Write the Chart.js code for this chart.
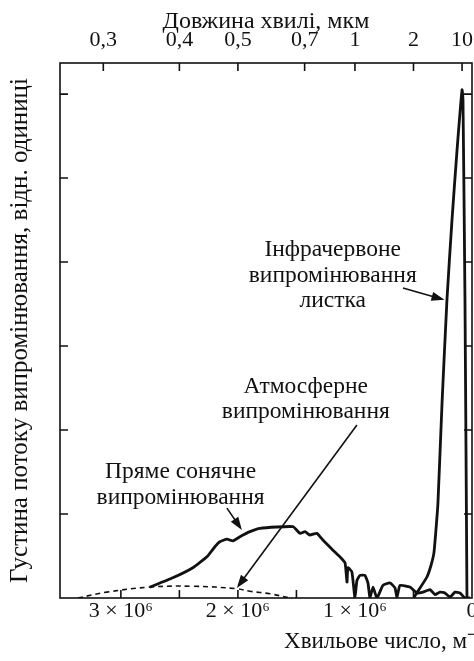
<!DOCTYPE html>
<html>
<head>
<meta charset="utf-8">
<script src="https://cdn.jsdelivr.net/npm/chart.js@4.4.1/dist/chart.umd.min.js"></script>
<style>
  html, body { margin: 0; padding: 0; background: #fff; overflow: hidden; }
  canvas { display: block; }
</style>
</head>
<body>
<canvas id="spectrum" width="520" height="661"></canvas>
<script>
// wavenumber in 10^6 m^-1, flux density in relative units
const solarNu = [2.752, 2.556, 2.385, 2.265, 2.197, 2.154, 2.094, 2.043, 1.983, 1.897, 1.812, 1.530, 1.470, 1.427, 1.385, 1.325, 1.274, 1.188, 1.128, 1.085, 1.068, 1.060, 1.026, 1.000, 0.983, 0.957, 0.915, 0.889, 0.872, 0.846, 0.812, 0.761, 0.701, 0.658, 0.641, 0.615, 0.530, 0.470, 0.419, 0.359, 0.316, 0.274, 0.231, 0.188, 0.145, 0.103, 0.060, 0.017];
const solarFlux = [0.13, 0.24, 0.36, 0.49, 0.61, 0.67, 0.70, 0.68, 0.73, 0.79, 0.83, 0.85, 0.77, 0.79, 0.75, 0.77, 0.69, 0.57, 0.49, 0.42, 0.19, 0.36, 0.31, 0.00, 0.21, 0.27, 0.27, 0.18, 0.00, 0.13, 0.00, 0.15, 0.18, 0.12, 0.01, 0.15, 0.13, 0.06, 0.07, 0.10, 0.04, 0.07, 0.06, 0.01, 0.07, 0.06, 0.00, 0.00];

const atmoNu = [3.368, 3.120, 2.752, 2.385, 2.009, 1.897, 1.726, 1.556];
const atmoFlux = [0.00, 0.07, 0.13, 0.14, 0.11, 0.08, 0.05, 0.00];

const leafNu = [0.496, 0.453, 0.385, 0.350, 0.325, 0.308, 0.291, 0.256, 0.214, 0.171, 0.128, 0.085, 0.077, 0.060, 0.043];
const leafFlux = [0.01, 0.10, 0.25, 0.39, 0.54, 0.81, 1.13, 2.32, 3.55, 4.50, 5.33, 6.05, 5.93, 3.55, 0.01];

// top axis: wavelength labels at the wavenumber where the picture puts them
const topTickPos = [3.15, 2.5, 2.0, 1.43, 1.0, 0.5, 0.085];
const topTickLabels = ['0,3', '0,4', '0,5', '0,7', '1', '2', '10'];

const serif = '"Liberation Serif", "Times New Roman", serif';
const ink = '#111';

function pts(xs, ys) {
  return xs.map((v, i) => ({ x: v, y: ys[i] }));
}

// text labels and arrows, placed in data units
const notes = [
  { lines: ['Інфрачервоне', 'випромінювання', 'листка'], x: 1.19, y: 4.14, from: [0.59, 3.69], to: [0.235, 3.55] },
  { lines: ['Атмосферне', 'випромінювання'], x: 1.42, y: 2.52, from: [0.983, 2.06], to: [2.009, 0.12] },
  { lines: ['Пряме сонячне', 'випромінювання'], x: 2.49, y: 1.50, from: [2.094, 1.07], to: [1.966, 0.81] }
];

function arrow(ctx, x1, y1, x2, y2) {
  const a = Math.atan2(y2 - y1, x2 - x1);
  const len = 13, half = 4.5;
  ctx.beginPath();
  ctx.moveTo(x1, y1);
  ctx.lineTo(x2 - Math.cos(a) * len * 0.8, y2 - Math.sin(a) * len * 0.8);
  ctx.stroke();
  ctx.beginPath();
  ctx.moveTo(x2, y2);
  ctx.lineTo(x2 - Math.cos(a) * len - Math.sin(a) * half, y2 - Math.sin(a) * len + Math.cos(a) * half);
  ctx.lineTo(x2 - Math.cos(a) * len + Math.sin(a) * half, y2 - Math.sin(a) * len - Math.cos(a) * half);
  ctx.closePath();
  ctx.fill();
}

const framePlugin = {
  id: 'frame',
  afterDraw(chart) {
    const { ctx, chartArea: a, scales } = chart;
    ctx.save();
    ctx.strokeStyle = ink;
    ctx.lineWidth = 1.6;
    ctx.strokeRect(a.left, a.top, a.right - a.left, a.bottom - a.top);

    // inner tick marks
    const tl = 8;
    ctx.beginPath();
    scales.y.ticks.forEach(t => {
      if (t.value <= 0 || t.value % 1 !== 0) return;
      const py = scales.y.getPixelForValue(t.value);
      ctx.moveTo(a.left, py); ctx.lineTo(a.left + tl, py);
      ctx.moveTo(a.right, py); ctx.lineTo(a.right - tl, py);
    });
    scales.x.ticks.forEach(t => {
      if (t.value <= 0 || Math.abs(t.value * 2 - Math.round(t.value * 2)) > 1e-6) return;
      const px = scales.x.getPixelForValue(t.value);
      ctx.moveTo(px, a.bottom); ctx.lineTo(px, a.bottom - tl);
    });
    scales.x2.ticks.forEach(t => {
      const px = scales.x2.getPixelForValue(t.value);
      ctx.moveTo(px, a.top); ctx.lineTo(px, a.top + tl);
    });
    ctx.stroke();

    ctx.fillStyle = ink;
    // bottom axis title (reversed scale flips the built-in alignment)
    ctx.font = '23px ' + serif;
    ctx.textAlign = 'right';
    ctx.textBaseline = 'middle';
    ctx.fillText('Хвильове число, м⁻¹', a.right + 10, 642);

    // annotations
    ctx.lineWidth = 1.6;
    ctx.font = '23.5px ' + serif;
    ctx.textAlign = 'center';
    notes.forEach(n => {
      const cx = scales.x.getPixelForValue(n.x);
      const cy = scales.y.getPixelForValue(n.y);
      n.lines.forEach((s, i) => ctx.fillText(s, cx, cy + i * 25.5));
      arrow(ctx,
        scales.x.getPixelForValue(n.from[0]), scales.y.getPixelForValue(n.from[1]),
        scales.x.getPixelForValue(n.to[0]), scales.y.getPixelForValue(n.to[1]));
    });
    ctx.restore();
  }
};

const font = { family: serif, size: 22 };

new Chart(document.getElementById('spectrum'), {
  type: 'line',
  data: {
    datasets: [
      { label: 'Пряме сонячне випромінювання', data: pts(solarNu, solarFlux), borderColor: ink, borderWidth: 2.8, tension: 0.15 },
      { label: 'Атмосферне випромінювання', data: pts(atmoNu, atmoFlux), borderColor: ink, borderWidth: 1.6, borderDash: [5, 4], tension: 0.4 },
      { label: 'Інфрачервоне випромінювання листка', data: pts(leafNu, leafFlux), borderColor: ink, borderWidth: 2.8, tension: 0.15 }
    ]
  },
  options: {
    responsive: false,
    animation: false,
    layout: { padding: { right: 48 } },
    elements: { point: { radius: 0 } },
    plugins: { legend: { display: false }, tooltip: { enabled: false } },
    scales: {
      x: {
        type: 'linear', position: 'bottom', reverse: true, min: 0, max: 3.52,
        grid: { display: false, drawTicks: false }, border: { display: false },
        ticks: {
          stepSize: 0.5, padding: 0, autoSkip: false, maxRotation: 0, color: ink, font,
          callback: v => (v === 0 ? '0' : (v % 1 === 0 && v <= 3 ? v + ' × 10⁶' : ''))
        },
        afterFit: s => { s.height = 63; }
      },
      x2: {
        type: 'linear', position: 'top', reverse: true, min: 0, max: 3.52,
        grid: { display: false, drawTicks: false }, border: { display: false },
        afterBuildTicks: s => { s.ticks = topTickPos.map(v => ({ value: v })); },
        ticks: { padding: 10, autoSkip: false, maxRotation: 0, color: ink, font, callback: (v, i) => topTickLabels[i] },
        title: { display: true, text: 'Довжина хвилі, мкм', color: ink, font: { family: serif, size: 24 }, padding: { top: 7, bottom: 0 } },
        afterFit: s => { s.height = 63; }
      },
      y: {
        min: 0, max: 6.37,
        grid: { display: false, drawTicks: false }, border: { display: false },
        ticks: { stepSize: 1, display: false },
        title: { display: true, text: 'Густина потоку випромінювання, відн. одиниці', color: ink, font: { family: serif, size: 25 }, padding: { top: 5, bottom: 0 } },
        afterFit: s => { s.width = 60; }
      }
    }
  },
  plugins: [framePlugin]
});
</script>
</body>
</html>
